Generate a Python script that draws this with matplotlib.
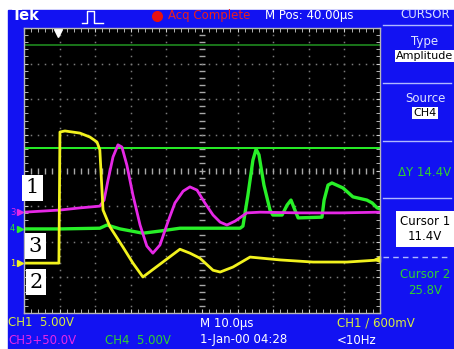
import numpy as np
import matplotlib.pyplot as plt
from matplotlib.patches import Rectangle
import matplotlib.transforms as mtransforms

# time in us (10 us/div), level in divisions from screen centre
ch1_t = [0, 9.8, 10.1, 11.5, 15.7, 18.5, 20.5, 21.3, 22.2, 24.2, 27.8, 30.6, 33.4,
         38.2, 43.8, 46.6, 49.4, 53.1, 55.1, 58.7, 63.5, 71.9, 81.2, 90.7, 100]
ch1_v = [-2.60, -2.60, 1.08, 1.11, 1.05, 0.94, 0.80, 0.58, -1.11, -1.59, -2.15, -2.60, -2.99,
         -2.63, -2.21, -2.32, -2.46, -2.80, -2.85, -2.71, -2.43, -2.51, -2.57, -2.57, -2.51]

ch3_t = [0, 10.1, 15.7, 21.3, 22.5, 23.6, 25.0, 26.4, 27.5, 28.9, 30.6, 32.6, 34.5, 36.2,
         38.2, 40.4, 42.4, 44.7, 46.6, 48.6, 50.8, 53.1, 55.1, 57.0, 59.3, 62.6, 66.3,
         77.5, 88.8, 100]
ch3_v = [-1.17, -1.11, -1.05, -1.00, -0.83, -0.27, 0.38, 0.72, 0.66, 0.15, -0.69, -1.53,
         -2.12, -2.32, -2.09, -1.45, -0.91, -0.58, -0.46, -0.55, -0.91, -1.25, -1.45, -1.53,
         -1.42, -1.19, -1.17, -1.19, -1.19, -1.17]

ch4_t = [0, 10.1, 21.3, 23.3, 27.0, 33.4, 38.2, 43.8, 60.7, 61.5, 62.9, 64.3, 65.2, 66.0,
         67.4, 69.1, 69.9, 72.5, 73.9, 75.0, 76.1, 77.0, 83.7, 84.3, 85.4, 86.5, 89.6,
         92.4, 96.3, 97.8, 99.2, 100]
ch4_v = [-1.64, -1.64, -1.62, -1.53, -1.64, -1.76, -1.70, -1.62, -1.62, -1.56, -0.69, 0.29,
         0.60, 0.44, -0.41, -1.11, -1.25, -1.25, -0.97, -0.83, -1.11, -1.33, -1.31, -0.83,
         -0.41, -0.35, -0.49, -0.74, -0.83, -0.91, -1.05, -1.08]

# ground markers (div) and settings
ch1_gnd, ch3_gnd, ch4_gnd = -2.60, -1.17, -1.64
ch4_scale = 5.0
trig_level = 0.6  # V on CH1, 5 V/div
cursor1, cursor2 = 11.4, 25.8
trig_pos = 9.6

BLUE = '#1212f2'
YEL = '#f2f21e'
MAG = '#e628e6'
GRN = '#28f028'

fig = plt.figure(figsize=(4.54, 3.49), dpi=100)
fig.patch.set_facecolor('white')

bg = fig.add_axes([0, 0, 1, 1])
bg.set_xlim(0, 454)
bg.set_ylim(349, 0)
bg.axis('off')
bg.add_patch(Rectangle((8, 10), 446, 339, color=BLUE, zorder=0))

ax = fig.add_axes([24/454, 36/349, 356/454, 285/349])
ax.set_zorder(2)
ax.set_facecolor('black')
ax.set_xlim(0, 100)
ax.set_ylim(-4, 4)

# graticule
for s in ax.spines.values():
    s.set_color('#b8b8b8')
    s.set_linewidth(1)
ax.set_xticks(np.arange(0, 101, 10))
ax.set_yticks(np.arange(-4, 5, 1))
ax.set_xticks(np.arange(0, 101, 2), minor=True)
ax.set_yticks(np.arange(-4, 4.01, 0.2), minor=True)
ax.tick_params(which='both', direction='in', length=3, color='#d0d0d0',
               top=True, right=True, labelbottom=False, labelleft=False)
gx = np.arange(2, 100, 2)
gy = np.arange(-3.8, 4, 0.2)
for t in range(10, 100, 10):
    if t == 50:
        ax.plot(np.full_like(gy, t), gy, ls='none', marker='_', ms=4, color='#a8a8a8', mew=1)
    else:
        ax.plot(np.full_like(gy, t), gy, ls='none', marker='s', ms=1.1, color='#7a7a7a', mew=0)
for v in range(-3, 4):
    if v == 0:
        ax.plot(gx, np.zeros_like(gx), ls='none', marker='|', ms=4, color='#a8a8a8', mew=1)
    else:
        ax.plot(gx, np.full_like(gx, float(v)), ls='none', marker='s', ms=1.1, color='#7a7a7a', mew=0)

# cursors on CH4
ax.axhline(ch4_gnd + cursor2 / ch4_scale, color='#1f8a1f', lw=1.2)
ax.axhline(ch4_gnd + cursor1 / ch4_scale, color=GRN, lw=1.4)

# traces
ax.plot(ch4_t, ch4_v, color=GRN, lw=2.4, solid_joinstyle='round')
ax.plot(ch3_t, ch3_v, color=MAG, lw=2.0, solid_joinstyle='round')
ax.plot(ch1_t, ch1_v, color=YEL, lw=2.0, solid_joinstyle='round')

# trigger markers
ax.plot(trig_pos, 3.85, marker='v', color='white', ms=6, clip_on=False)
ax.plot(99.2, ch1_gnd + trig_level / 5.0, marker='<', color=YEL, ms=5, clip_on=False)

# channel ground markers left of the screen
tr = mtransforms.blended_transform_factory(ax.transAxes, ax.transData)
for lab, lev, col in [('1', ch1_gnd, YEL), ('3', ch3_gnd, MAG), ('4', ch4_gnd, GRN)]:
    ax.text(-0.032, lev, lab, transform=tr, color=col, fontsize=6, ha='center', va='center',
            clip_on=False)
    ax.plot(-0.012, lev, transform=tr, marker='>', color=col, ms=4, clip_on=False)

# white labels on the screen
for lab, t, v in [('1', 2.4, -0.48), ('3', 3.2, -2.13), ('2', 3.4, -3.13)]:
    ax.text(t, v, lab, color='black', fontsize=15, family='DejaVu Serif', ha='center',
            va='center', bbox=dict(facecolor='white', edgecolor='none', pad=2.5))

# top bar
bg.text(12, 16, 'Tek', color='white', fontsize=10.5, weight='bold', va='center')
bg.plot([82, 87, 87, 94, 94, 103], [23, 23, 11, 11, 23, 23], color='white', lw=1)
bg.plot(157, 16, 'o', color='#e81010', ms=7)
bg.text(168, 16, 'Acq Complete', color='#e82020', fontsize=8.5, va='center')
bg.text(265, 16, 'M Pos: 40.00µs', color='white', fontsize=8.5, va='center')
bg.text(425, 14, 'CURSOR', color='#d8e0ff', fontsize=8.5, va='center', ha='center')

# side panel
for y in [25, 83, 141, 198]:
    bg.plot([383, 451], [y, y], color='#b0b8ff', lw=1)
bg.plot([383, 451], [257, 257], color='#b0b8ff', lw=1, ls=(0, (4, 3)))
box = dict(facecolor='white', edgecolor='none', pad=1)
bg.text(425, 42, 'Type', color='#e0e4ff', fontsize=8.5, ha='center', va='center')
bg.text(425, 56, 'Amplitude', color='black', fontsize=8, ha='center', va='center', bbox=box)
bg.text(425, 99, 'Source', color='#e0e4ff', fontsize=8.5, ha='center', va='center')
bg.text(425, 113, 'CH4', color='black', fontsize=8, ha='center', va='center', bbox=box)
bg.text(425, 173, 'ΔY %.1fV' % (cursor2 - cursor1), color='#30d030', fontsize=8.5,
        ha='center', va='center')
bg.text(425, 229, 'Cursor 1\n%.1fV' % cursor1, color='black', fontsize=8.5, ha='center',
        va='center', linespacing=1.2,
        bbox=dict(facecolor='white', edgecolor='none', pad=3))
bg.text(425, 274, 'Cursor 2', color='#30d030', fontsize=8.5, ha='center', va='center')
bg.text(425, 290, '%.1fV' % cursor2, color='#30d030', fontsize=8.5, ha='center', va='center')

# bottom bar
bg.text(8, 323, 'CH1  5.00V', color='#d8ec40', fontsize=8.5, va='center')
bg.text(200, 323, 'M 10.0µs', color='white', fontsize=8.5, va='center')
bg.text(337, 323, 'CH1 / 600mV', color='#d8ec40', fontsize=8.5, va='center')
bg.text(8, 340, 'CH3+50.0V', color=MAG, fontsize=8.5, va='center')
bg.text(105, 340, 'CH4  5.00V', color='#30d030', fontsize=8.5, va='center')
bg.text(200, 340, '1-Jan-00 04:28', color='white', fontsize=8.5, va='center')
bg.text(337, 340, '<10Hz', color='white', fontsize=8.5, va='center')

fig.savefig('out.png', dpi=100)
